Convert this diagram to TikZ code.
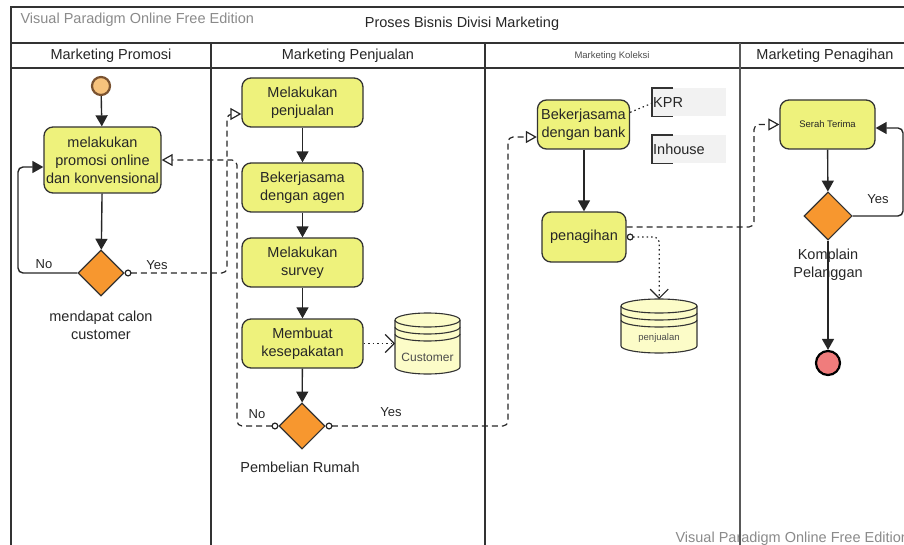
\documentclass[tikz,border=0pt]{standalone}
\usepackage{fontspec}
\setmainfont{Liberation Sans}
\usetikzlibrary{arrows.meta,shapes.geometric,calc}

\definecolor{taskfill}{HTML}{EEF27C}
\definecolor{gatefill}{HTML}{F7972F}
\definecolor{dbfill}{HTML}{FCFCC8}
\definecolor{startfill}{HTML}{F7C27C}
\definecolor{startline}{HTML}{7A5230}
\definecolor{endfill}{HTML}{F07C7C}
\definecolor{linegray}{HTML}{333333}
\definecolor{notefill}{HTML}{F2F2F2}
\definecolor{markgray}{HTML}{8A8A8A}

% data store: name, left x, top y, width, height, font size, label
\newcommand{\datastore}[7]{%
  \begin{scope}[shift={(#2,#3)}]
    \filldraw[dbshape] (0,7) -- (0,#5-7) arc (180:0:#4/2 and 7) -- (#4,7) arc (0:-180:#4/2 and 7) -- cycle;
    \draw[dbshape,fill=none] (0,7) arc (180:0:#4/2 and 7);
    \draw[dbshape,fill=none] (0,14) arc (180:0:#4/2 and 7);
    \draw[dbshape,fill=none] (0,21) arc (180:0:#4/2 and 7);
    \node[font=\fontsize{#6}{#6}\selectfont, text=black!70] at (#4/2,0.72*#5) {#7};
  \end{scope}
  \node[inner sep=0pt, minimum width=#4, minimum height=#5, anchor=north west] (#1) at (#2,#3) {};
}

\begin{document}
\begin{tikzpicture}[x=1pt,y=-1pt,
  every node/.style={font=\fontsize{14.5}{18}\selectfont, text=black!85},
  task/.style={draw=linegray, fill=taskfill, line width=1.3pt, rounded corners=9pt, align=center, inner sep=0pt},
  gate/.style={diamond, draw=linegray, fill=gatefill, line width=1.1pt, inner sep=0pt, minimum width=46, minimum height=46},
  flow/.style={draw=black!85, line width=1.4pt, rounded corners=5pt, -{Triangle[length=11pt,width=12pt]}},
  msg/.style={draw=black!85, line width=1.2pt, dash pattern=on 6pt off 4pt, rounded corners=5pt, -{Triangle[open,length=11pt,width=12pt,fill=white]}},
  msgc/.style={msg, {Circle[open,length=7pt,width=7pt,fill=white]}-{Triangle[open,length=11pt,width=12pt,fill=white]}},
  dotline/.style={draw=black!85, line width=1.2pt, dash pattern=on 1.5pt off 3pt, rounded corners=5pt},
  assoc/.style={dotline, -{Straight Barb[length=9pt,width=18pt]}},
  lbl/.style={font=\fontsize{13}{15}\selectfont},
  lane/.style={draw=linegray, line width=1.3pt},
  dbshape/.style={draw=linegray, fill=dbfill, line width=1.1pt}
]
\useasboundingbox (0,0) rectangle (904,545);
\clip (0,0) rectangle (904,545);

% pool and lanes
\node[anchor=west, text=markgray] at (17,20) {Visual Paradigm Online Free Edition};
\node[anchor=west, text=markgray] at (672,539) {Visual Paradigm Online Free Edition};
\node at (462,24) {Proses Bisnis Divisi Marketing};
\draw[lane] (11,560) -- (11,7) -- (920,7);
\draw[lane] (11,43) -- (920,43);
\draw[lane] (11,68) -- (920,68);
\draw[lane] (211,43) -- (211,560);
\draw[lane] (485,43) -- (485,560);
\draw[lane,draw=black!65] (740,43) -- (740,560);
\node at (111,56) {Marketing Promosi};
\node at (348,56) {Marketing Penjualan};
\node[font=\fontsize{9.5}{11}\selectfont, text=black!70] at (612,56) {Marketing Koleksi};
\node at (825,56) {Marketing Penagihan};

% Marketing Promosi
\node[circle, draw=startline, fill=startfill, line width=2.2pt, minimum size=18, inner sep=0pt] (start) at (101,86) {};
\node[task, minimum width=117, minimum height=66] (promosi) at (102.5,160) {melakukan\\promosi online\\dan konvensional};
\node[gate] (calon) at (101,273) {};
\node[align=center] (calontxt) at (101,325) {mendapat calon\\customer};
\draw[flow] (start) -- (promosi);
\draw[flow] (promosi) -- (calon);
\draw[flow] (calon.west) -- (18,273) -- (18,167) -- (promosi.west |- 0,167);
\node[lbl] at (44,264) {No};
\node[lbl] at (157,265) {Yes};

% Marketing Penjualan
\node[task, minimum width=121, minimum height=49] (penjualan) at (302.5,102.5) {Melakukan\\penjualan};
\node[task, minimum width=121, minimum height=49] (agen) at (302.5,187.5) {Bekerjasama\\dengan agen};
\node[task, minimum width=121, minimum height=49] (survey) at (302.5,262.5) {Melakukan\\survey};
\node[task, minimum width=121, minimum height=49] (sepakat) at (302.5,343.5) {Membuat\\kesepakatan};
\node[gate] (beli) at (302,426) {};
\node (belitxt) at (300,467) {Pembelian Rumah};
\datastore{customerdb}{395}{313}{65}{61}{12}{Customer}
\draw[flow] (penjualan) -- (agen);
\draw[flow] (agen) -- (survey);
\draw[flow] (survey) -- (sepakat);
\draw[flow] (sepakat) -- (beli);
\draw[assoc] (sepakat.east) -- (customerdb.west |- sepakat.east);
\node[lbl] at (257,414) {No};
\node[lbl] at (391,412) {Yes};

% Marketing Koleksi
\node[task, minimum width=92, minimum height=49] (bank) at (583.5,124.5) {Bekerjasama\\dengan bank};
\node[task, minimum width=84, minimum height=50] (tagih) at (584,237) {penagihan};
\node[fill=notefill, anchor=north west, inner sep=1pt, text width=72, minimum height=28, align=left] (kpr) at (652,88) {KPR};
\node[fill=notefill, anchor=north west, inner sep=1pt, text width=72, minimum height=28, align=left] (inhouse) at (652,135) {Inhouse};
\draw[line width=1.1pt, draw=linegray] ($(kpr.north west)+(21,0)$) -- (kpr.north west) -- (kpr.south west) -- ++(21,0);
\draw[line width=1.1pt, draw=linegray] ($(inhouse.north west)+(21,0)$) -- (inhouse.north west) -- (inhouse.south west) -- ++(21,0);
\datastore{penjualandb}{621}{299}{76}{54}{9.5}{penjualan}
\draw[flow] (tagih.north |- bank.south) -- (tagih.north);
\draw[dotline] ($(bank.north east)+(0,13)$) -- ($(kpr.west)+(0,1)$);
\draw[assoc, {Circle[open,length=7pt,width=7pt,fill=white]}-{Straight Barb[length=9pt,width=18pt]}] (tagih.east) -| (penjualandb.north);

% Marketing Penagihan
\node[task, minimum width=95, minimum height=49, font=\fontsize{9.5}{11}\selectfont] (serah) at (827.5,124.5) {Serah Terima};
\node[gate, minimum width=48, minimum height=48] (komplain) at (828,216) {};
\node[circle, draw=black, fill=endfill, line width=2.2pt, minimum size=24, inner sep=0pt] (finish) at (828,363) {};
\draw[flow] (serah) -- (komplain);
\draw[flow] (komplain) -- (finish);
\node[align=center, fill=none] (komplaintxt) at (828,265) {Komplain\\Pelanggan};
\draw[flow] (komplain.east) -- (903,216) -- (903,128) -- (serah.east |- 0,128);
\node[lbl] at (878,199) {Yes};

% message flows between lanes
\draw[msgc] (calon.east) -- (227,273) -- (227,114) -- (penjualan.west |- 0,114);
\draw[msgc] (beli.west) -| (237,160) -- (promosi.east);
\draw[msgc] (beli.east) -| (508,137) -- (bank.west |- 0,137);
\draw[msg] ($(tagih.east)+(0,-10)$) -- (754,227) -- (754,124.5) -- (serah.west);
\end{tikzpicture}
\end{document}
